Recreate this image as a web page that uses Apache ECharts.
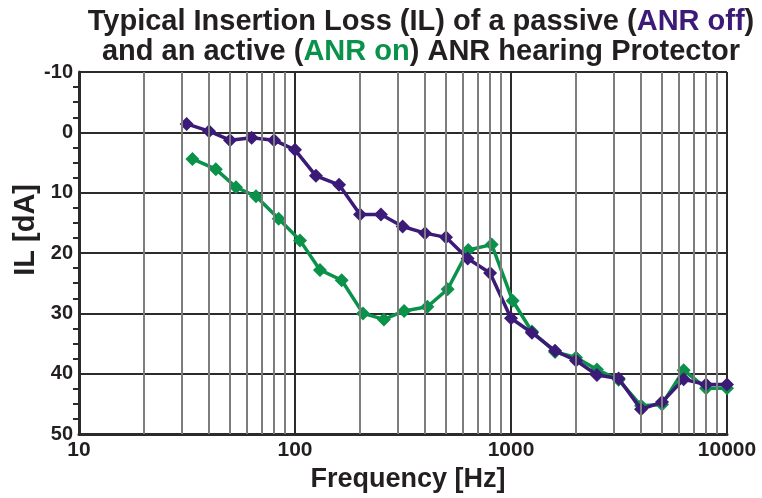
<!DOCTYPE html>
<html>
<head>
<meta charset="utf-8">
<script src="https://cdn.jsdelivr.net/npm/echarts@6/dist/echarts.min.js"></script>
<style>html,body{margin:0;padding:0;background:#fff}#c{width:762px;height:498px}</style>
</head>
<body>
<div id="c"></div>
<script>
// Frequencies (Hz) and insertion loss (dA)
const freqOff = [31.5, 40, 50, 63, 80, 100, 125, 160, 200, 250, 315, 400, 500, 630, 800, 1000, 1250, 1600, 2000, 2500, 3150, 4000, 5000, 6300, 8000, 10000];
const ilOff   = [-1.4, -0.2, 1.3, 0.9, 1.3, 2.9, 7.2, 8.7, 13.6, 13.6, 15.6, 16.7, 17.4, 20.9, 23.3, 30.8, 33.2, 36.2, 37.8, 40.2, 40.8, 45.9, 44.7, 40.9, 41.8, 41.8];
const freqOn  = [33.5, 43, 53.3, 66, 84, 105.5, 130.5, 164.5, 206.5, 258, 320, 410, 509, 634, 814, 1018, 1250, 1600, 2000, 2500, 3150, 4000, 5000, 6300, 8000, 10000];
const ilOn    = [4.4, 6.1, 9.1, 10.6, 14.3, 17.9, 22.8, 24.5, 30.0, 31.0, 29.6, 28.9, 26.0, 19.5, 18.6, 27.9, 33.0, 36.4, 37.3, 39.3, 41.0, 45.3, 45.1, 39.4, 42.4, 42.4];
const minorFreqs = [20, 30, 40, 50, 60, 70, 80, 90, 200, 300, 400, 500, 600, 700, 800, 900, 2000, 3000, 4000, 5000, 6000, 7000, 8000, 9000];
const xTicks = [10, 100, 1000, 10000];
const yTicks = [-10, 0, 10, 20, 30, 40, 50];

const PURPLE = '#3b1a78';
const GREEN = '#0b924a';
const TXT = '#231f20';
const FONT = '"Liberation Sans", Arial, sans-serif';

const chart = echarts.init(document.getElementById('c'), null, {renderer: 'canvas'});
chart.setOption({
  animation: false,
  backgroundColor: '#ffffff',
  title: {
    text: 'Typical Insertion Loss (IL) of a passive ({p|ANR off})\nand an active ({g|ANR on}) ANR hearing Protector',
    left: 416, top: 2, textAlign: 'center',
    textStyle: {
      fontFamily: FONT, fontWeight: 'bold', fontSize: 29, lineHeight: 30, color: TXT,
      rich: {
        p: {fontFamily: FONT, fontWeight: 'bold', fontSize: 29, lineHeight: 30, color: PURPLE},
        g: {fontFamily: FONT, fontWeight: 'bold', fontSize: 29, lineHeight: 30, color: GREEN}
      }
    }
  },
  graphic: [{
    type: 'text', left: 11, top: 184, rotation: Math.PI / 2,
    style: {text: 'IL [dA]', fontFamily: FONT, fontWeight: 'bold', fontSize: 29, fill: TXT}
  }],
  grid: {left: 79, right: 35, top: 72, bottom: 56, containLabel: false},
  xAxis: {
    type: 'log', logBase: 10, min: xTicks[0], max: xTicks[xTicks.length - 1],
    name: 'Frequency [Hz]', nameLocation: 'middle', nameGap: 26,
    nameTextStyle: {fontFamily: FONT, fontWeight: 'bold', fontSize: 27, color: TXT, verticalAlign: 'top', padding: [0, 0, 0, 10]},
    axisLine: {show: true, onZero: false, lineStyle: {color: '#2b2b2b', width: 3}},
    axisTick: {show: false},
    axisLabel: {fontFamily: FONT, fontWeight: 'bold', fontSize: 21, color: TXT, margin: 6,
      formatter: v => String(Math.round(v))},
    splitLine: {show: true, lineStyle: {color: '#2b2b2b', width: 2}}
  },
  yAxis: {
    type: 'value', inverse: true, min: yTicks[0], max: yTicks[yTicks.length - 1], interval: 10,
    axisLine: {show: true, onZero: false, lineStyle: {color: '#2b2b2b', width: 3}},
    axisTick: {show: false},
    minorTick: {show: true, splitNumber: 4, length: 6, lineStyle: {color: '#2b2b2b', width: 2}},
    axisLabel: {fontFamily: FONT, fontWeight: 'bold', fontSize: 20, color: TXT, margin: 6},
    splitLine: {show: true, lineStyle: {color: '#2b2b2b', width: 2}}
  },
  series: [
    {
      name: 'grid', type: 'line', data: [], silent: true,
      markLine: {
        silent: true, symbol: 'none', label: {show: false},
        lineStyle: {color: '#7d7d7d', width: 2, type: 'solid'},
        data: minorFreqs.map(f => ({xAxis: f}))
      }
    },
    {
      name: 'ANR off', type: 'line', z: 4,
      data: freqOff.map((f, i) => [f, ilOff[i]]),
      symbol: 'diamond', symbolSize: 14, showSymbol: true,
      lineStyle: {color: PURPLE, width: 3.5},
      itemStyle: {color: PURPLE}
    },
    {
      name: 'ANR on', type: 'line', z: 3,
      data: freqOn.map((f, i) => [f, ilOn[i]]),
      symbol: 'diamond', symbolSize: 14, showSymbol: true,
      lineStyle: {color: GREEN, width: 3.5},
      itemStyle: {color: GREEN}
    }
  ]
});
</script>
</body>
</html>
